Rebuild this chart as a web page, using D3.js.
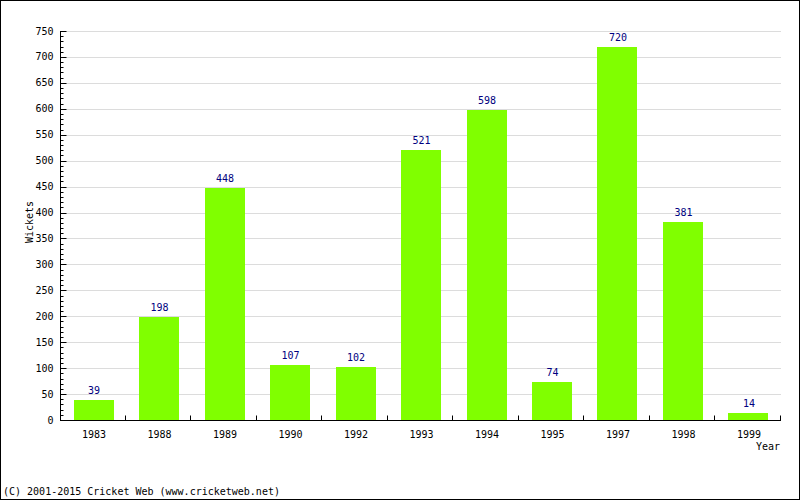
<!DOCTYPE html>
<html>
<head>
<meta charset="utf-8">
<script src="https://cdn.jsdelivr.net/npm/d3@7.9.0/dist/d3.min.js"></script>
<style>
  body { margin: 0; background: #fff; }
  svg text { font-family: "DejaVu Sans Mono", monospace; font-size: 10px; }
</style>
</head>
<body>
<svg id="chart" width="800" height="500"></svg>
<script>
const years = ['1983', '1988', '1989', '1990', '1992', '1993', '1994', '1995', '1997', '1998', '1999'];
const wickets = [39, 198, 448, 107, 102, 521, 598, 74, 720, 381, 14];
const yTicks = d3.range(0, 751, 50);

const svg = d3.select('#chart');
const plotLeft = 60, plotRight = 781, plotTop = 31, plotBottom = 420;

svg.append('rect')
  .attr('x', 0.5).attr('y', 0.5)
  .attr('width', 799).attr('height', 499)
  .attr('fill', '#fff').attr('stroke', '#000');

const x = d3.scaleBand().domain(years).range([plotLeft, plotRight]).paddingInner(0.39).paddingOuter(0.2);
const y = d3.scaleLinear().domain([0, 750]).range([plotBottom, plotTop]);

// gridlines
svg.append('g')
  .selectAll('line')
  .data(yTicks.filter((d) => d > 0))
  .join('line')
  .attr('x1', plotLeft).attr('x2', plotRight)
  .attr('y1', (d) => Math.round(y(d)) + 0.5)
  .attr('y2', (d) => Math.round(y(d)) + 0.5)
  .attr('stroke', '#dcdcdc');

// bars
svg.append('g')
  .selectAll('rect')
  .data(wickets)
  .join('rect')
  .attr('x', (d, i) => Math.ceil(x(years[i])))
  .attr('y', (d) => Math.round(y(d)))
  .attr('width', Math.round(x.bandwidth()))
  .attr('height', (d) => plotBottom - Math.round(y(d)))
  .attr('fill', '#80ff00');

// value labels
svg.append('g')
  .selectAll('text')
  .data(wickets)
  .join('text')
  .attr('x', (d, i) => x(years[i]) + x.bandwidth() / 2 + 1)
  .attr('y', (d) => y(d) - 6)
  .attr('text-anchor', 'middle')
  .attr('fill', '#000080')
  .text((d) => d);

// y axis
const yAxis = svg.append('g').attr('transform', `translate(${plotLeft + 0.5},0)`);
yAxis.append('line').attr('y1', plotTop).attr('y2', plotBottom).attr('stroke', '#000');
yAxis.selectAll('.minor')
  .data(d3.range(0, 751, 10))
  .join('line')
  .attr('x1', 0)
  .attr('x2', (d) => (d % 50 === 0 ? 6 : 3))
  .attr('y1', (d) => Math.round(y(d)) + 0.5)
  .attr('y2', (d) => Math.round(y(d)) + 0.5)
  .attr('stroke', '#000');
yAxis.selectAll('text')
  .data(yTicks)
  .join('text')
  .attr('x', -7)
  .attr('y', (d) => y(d))
  .attr('dy', '0.35em')
  .attr('text-anchor', 'end')
  .text((d) => d);

// x axis
const xAxis = svg.append('g').attr('transform', `translate(0,${plotBottom + 0.5})`);
xAxis.append('line').attr('x1', plotLeft).attr('x2', plotRight).attr('stroke', '#000');
const step = (plotRight - plotLeft) / years.length;
xAxis.selectAll('.tick')
  .data(d3.range(1, years.length + 1))
  .join('line')
  .attr('x1', (d) => Math.round(plotLeft + d * step) - 0.5)
  .attr('x2', (d) => Math.round(plotLeft + d * step) - 0.5)
  .attr('y1', 0).attr('y2', -5)
  .attr('stroke', '#000');
xAxis.selectAll('text')
  .data(years)
  .join('text')
  .attr('x', (d) => x(d) + x.bandwidth() / 2 + 1)
  .attr('y', 17)
  .attr('text-anchor', 'middle')
  .text((d) => d);

svg.append('text')
  .attr('x', 780).attr('y', 450)
  .attr('text-anchor', 'end')
  .text('Year');

svg.append('text')
  .attr('transform', `translate(33,222) rotate(-90)`)
  .attr('text-anchor', 'middle')
  .text('Wickets');

svg.append('text')
  .attr('x', 3).attr('y', 495)
  .text('(C) 2001-2015 Cricket Web (www.cricketweb.net)');
</script>
</body>
</html>
